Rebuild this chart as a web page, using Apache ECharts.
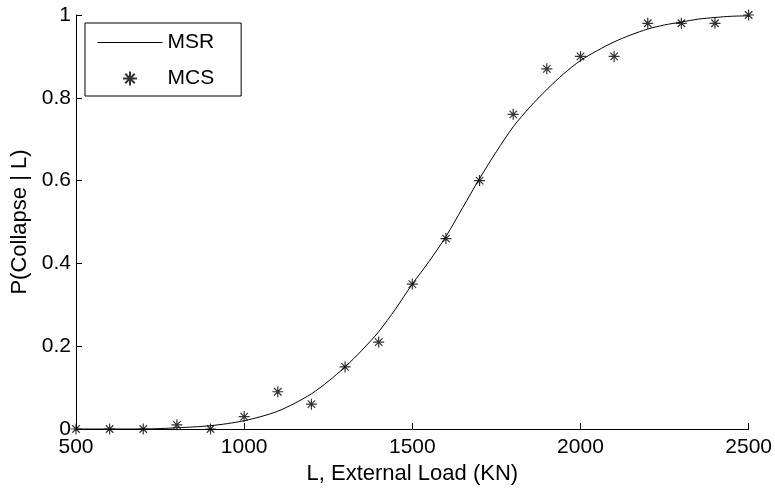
<!DOCTYPE html>
<html>
<head>
<meta charset="utf-8">
<script src="https://cdn.jsdelivr.net/npm/echarts@6/dist/echarts.min.js"></script>
<style>html,body{margin:0;padding:0;background:#fff;}#c{width:775px;height:490px;}</style>
</head>
<body>
<div id="c"></div>
<script>
// MCS simulation points
const mcsLoad = [500,600,700,800,900,1000,1100,1200,1300,1400,1500,1600,1700,1800,1900,2000,2100,2200,2300,2400,2500];
const mcsProb = [0,0,0,0.01,0,0.03,0.09,0.06,0.15,0.21,0.35,0.46,0.60,0.76,0.87,0.90,0.90,0.98,0.98,0.98,1.0];
// MSR curve
const msrLoad = [500,550,600,650,700,750,800,850,900,950,1000,1050,1100,1150,1200,1250,1300,1350,1400,1450,1500,1550,1600,1650,1700,1750,1800,1850,1900,1950,2000,2050,2100,2150,2200,2250,2300,2350,2400,2450,2500];
const msrProb = [0,0,0,0,0,0.001,0.003,0.005,0.008,0.013,0.02,0.03,0.043,0.062,0.085,0.115,0.15,0.19,0.235,0.29,0.35,0.405,0.465,0.535,0.605,0.67,0.73,0.778,0.82,0.858,0.89,0.914,0.935,0.952,0.966,0.976,0.983,0.99,0.994,0.997,0.998];
const xTicks = [500,1000,1500,2000,2500];
const yTicks = [0,0.2,0.4,0.6,0.8,1];

const FONT = 'Liberation Sans';
const FS = 21;
const chart = echarts.init(document.getElementById('c'), null, {renderer:'canvas'});
const star = 'path://M5 0V10M0 5H10M1.6 1.6L8.4 8.4M1.6 8.4L8.4 1.6';
chart.setOption({
  animation:false,
  backgroundColor:'#fff',
  textStyle:{fontFamily:FONT, color:'#000'},
  grid:{left:76, right:26, top:15, bottom:55, containLabel:false},
  legend:{
    show:true,
    orient:'vertical', left:85, top:23,
    padding:[9,27,7,12],
    itemWidth:65, itemHeight:14, itemGap:15,
    borderColor:'#000', borderWidth:1, backgroundColor:'#fff',
    textStyle:{fontFamily:FONT, fontSize:FS, color:'#000', lineHeight:21},
    data:[{name:'MSR', itemStyle:{opacity:0}, lineStyle:{width:1, color:'#000'}}, 'MCS']
  },
  xAxis:{
    type:'value', min:500, max:2500, interval:500,
    name:'L, External Load (KN)', nameLocation:'middle', nameGap:34,
    nameTextStyle:{fontFamily:FONT, fontSize:22, color:'#000'},
    axisLine:{show:true, onZero:false, lineStyle:{color:'#000', width:1}},
    axisTick:{show:true, inside:true, length:6, lineStyle:{color:'#000'}},
    axisLabel:{fontFamily:FONT, fontSize:FS, color:'#000', margin:8,
      formatter:v=>String(v)},
    splitLine:{show:false}
  },
  yAxis:{
    type:'value', min:0, max:1, interval:0.2,
    name:'P(Collapse | L)', nameLocation:'middle', nameGap:45,
    nameTextStyle:{fontFamily:FONT, fontSize:22, color:'#000'},
    axisLine:{show:true, onZero:false, lineStyle:{color:'#000', width:1}},
    axisTick:{show:true, inside:true, length:6, lineStyle:{color:'#000'}},
    axisLabel:{fontFamily:FONT, fontSize:FS, color:'#000', margin:5,
      formatter:v=>String(Math.round(v*10)/10)},
    splitLine:{show:false}
  },
  series:[
    {name:'MSR', type:'line', data:msrLoad.map((x,i)=>[x,msrProb[i]]),
     showSymbol:false, symbol:'none', smooth:0.3,
     lineStyle:{color:'#000', width:1}, itemStyle:{color:'#000'}},
    {name:'MCS', type:'scatter', data:mcsLoad.map((x,i)=>[x,mcsProb[i]]),
     symbol:star, symbolSize:11,
     itemStyle:{color:'rgba(0,0,0,0)', borderColor:'#000', borderWidth:1.2}}
  ]
});
</script>
</body>
</html>
